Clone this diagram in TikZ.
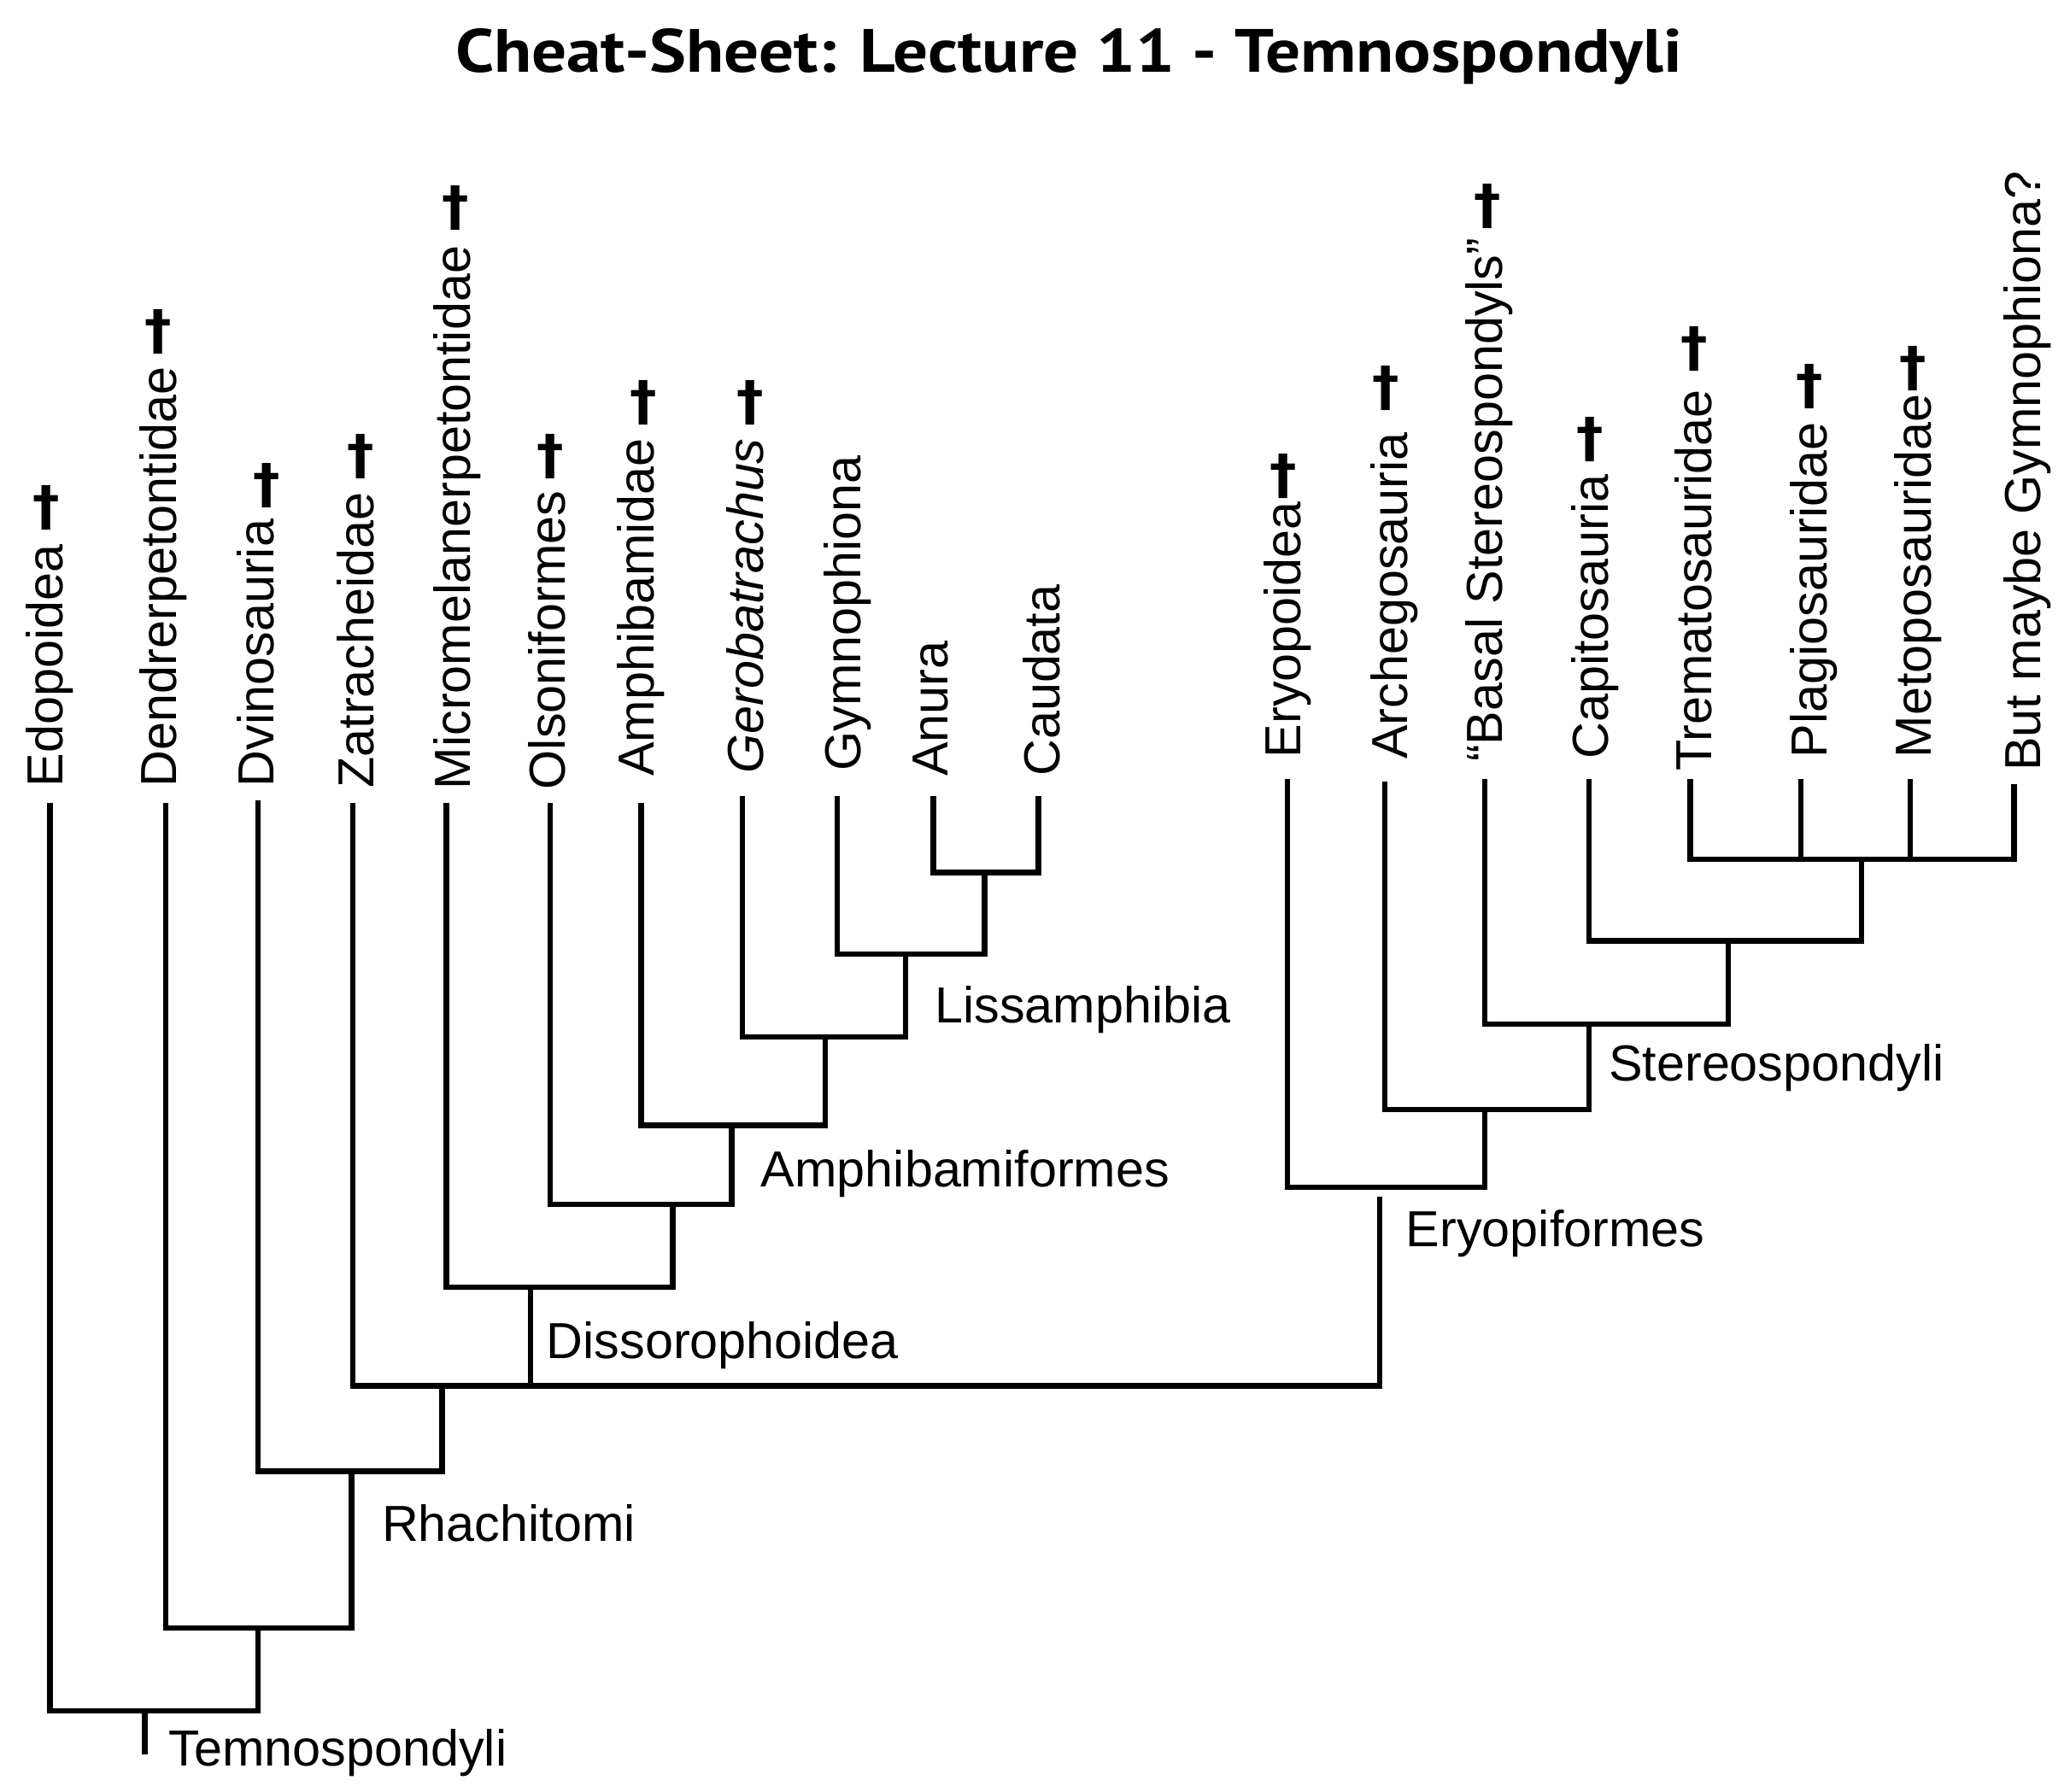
\documentclass[tikz,border=0pt]{standalone}
\usepackage{fontspec}
\setmainfont{Liberation Sans}
\newfontfamily\titlefont{PT Sans}
\newfontfamily\dagfont{DejaVu Sans}
\begin{document}
\begin{tikzpicture}[x=1pt,y=-1pt,
  branch/.style={draw=black, line width=4.2pt, line join=miter, line cap=butt},
  tip/.style={rotate=90, anchor=base west, inner sep=0pt, font=\fontsize{38.5}{40}\selectfont},
  clade/.style={anchor=base west, inner sep=0pt, font=\fontsize{38.5}{40}\selectfont},
  dag/.style={inner sep=0pt, font=\dagfont\bfseries\fontsize{41}{43}\selectfont}]
\useasboundingbox (0,0) rectangle (1568,1361.6);

% title
\node[inner sep=0pt, anchor=base, font=\titlefont\bfseries\fontsize{46.4}{50}\selectfont] (title) at (812,55) {\scalebox{1.134}[1]{Cheat-Sheet: Lecture 11 - Temnospondyli}};

% tip tops (left clade)
\coordinate (t1) at (38,610);
\coordinate (t2) at (126,610);
\coordinate (t3) at (196,608);
\coordinate (t4) at (268,610);
\coordinate (t5) at (339,610);
\coordinate (t6) at (418,610);
\coordinate (t7) at (487,610);
\coordinate (t8) at (564,605);
\coordinate (t9) at (636,605);
\coordinate (t10) at (709,605);
\coordinate (t11) at (789,605);
% internal nodes (left)
\coordinate (n1) at (748,663);
\coordinate (n2) at (688,725);
\coordinate (n3) at (627,788);
\coordinate (n4) at (556,855);
\coordinate (n5) at (511,915);
\coordinate (n6) at (403,978);
\coordinate (n7) at (336,1053);
\coordinate (n8) at (267,1118);
\coordinate (n9) at (196,1237);
\coordinate (n10) at (110,1300);
\coordinate (root) at (110,1333);
% right clade tips
\coordinate (r1) at (978,592);
\coordinate (r2) at (1052,594);
\coordinate (r3) at (1128,592);
\coordinate (r4) at (1207,592);
\coordinate (r5) at (1284,592);
\coordinate (r6) at (1368,592);
\coordinate (r7) at (1451,592);
\coordinate (r8) at (1530,596);
% right internal nodes
\coordinate (m1) at (1414,653);
\coordinate (m2) at (1313,715);
\coordinate (m3) at (1207,778);
\coordinate (m4) at (1128,843);
\coordinate (m5) at (1048,902);
\coordinate (e0) at (1048,909);

% branches, left
\path[branch] (t10) |- (n1) -| (t11);
\path[branch] (t9) |- (n2) -| (n1);
\path[branch] (t8) |- (n3) -| (n2);
\path[branch] (t7) |- (n4) -| (n3);
\path[branch] (t6) |- (n5) -| (n4);
\path[branch] (t5) |- (n6) -| (n5);
\path[branch] (t4) |- (e0 |- n7) -- (e0);
\path[branch] (n6) -- (n6 |- n7);
\path[branch] (t3) |- (n8) -| (n7);
\path[branch] (t2) |- (n9) -| (n8);
\path[branch] (t1) |- (n10) -| (n9);
\path[branch] (n10) -- (root);
% branches, right
\path[branch] (r5) |- (m1) -| (r8);
\path[branch] (r6) -- (r6 |- m1);
\path[branch] (r7) -- (r7 |- m1);
\path[branch] (r4) |- (m2) -| (m1);
\path[branch] (r3) |- (m3) -| (m2);
\path[branch] (r2) |- (m4) -| (m3);
\path[branch] (r1) |- (m5) -| (m4);

% tip labels
\node[tip] (l1) at (48,598) {Edopoidea};
\node[tip] (l2) at (134,598) {Dendrerpetontidae};
\node[tip] (l3) at (208,598) {Dvinosauria};
\node[tip] (l4) at (284,599) {Zatracheidae};
\node[tip] (l5) at (357,600) {Micromelanerpetontidae};
\node[tip] (l6) at (429,600) {Olsoniformes};
\node[tip] (l7) at (497,590) {Amphibamidae};
\node[tip] (l8) at (580,588) {\itshape Gerobatrachus};
\node[tip] (l9) at (654,586) {Gymnophiona};
\node[tip] (l10) at (720,590) {Anura};
\node[tip] (l11) at (805,590) {Caudata};
\node[tip] (q1) at (988,576) {Eryopoidea};
\node[tip] (q2) at (1069,577) {Archegosauria};
\node[tip] (q3) at (1141,579) {“Basal Stereospondyls”};
\node[tip] (q4) at (1222,577) {Capitosauria};
\node[tip] (q5) at (1300,586) {Trematosauridae};
\node[tip] (q6) at (1388,576) {Plagiosauridae};
\node[tip] (q7) at (1467,576) {Metoposauridae};
\node[tip] (q8) at (1550,586) {But maybe Gymnophiona?};

% extinction daggers
\node[dag] (d1) at (35,386) {†};
\node[dag] (d2) at (120,252) {†};
\node[dag] (d3) at (203,369) {†};
\node[dag] (d4) at (274,347) {†};
\node[dag] (d5) at (346,158) {†};
\node[dag] (d6) at (418,347) {†};
\node[dag] (d7) at (489,306) {†};
\node[dag] (d8) at (570,306) {†};
\node[dag] (d9) at (975,362) {†};
\node[dag] (d10) at (1053,295) {†};
\node[dag] (d11) at (1130,157) {†};
\node[dag] (d12) at (1208,334) {†};
\node[dag] (d13) at (1287,265) {†};
\node[dag] (d14) at (1375,294) {†};
\node[dag] (d15) at (1453,280) {†};

% clade labels
\node[clade] (c1) at (710,777) {Lissamphibia};
\node[clade] (c2) at (578,902) {Amphibamiformes};
\node[clade] (c3) at (415,1032) {Dissorophoidea};
\node[clade] (c4) at (290,1171) {Rhachitomi};
\node[clade] (c5) at (128,1342) {Temnospondyli};
\node[clade] (c6) at (1222,821) {Stereospondyli};
\node[clade] (c7) at (1068,947) {Eryopiformes};
\end{tikzpicture}
\end{document}
